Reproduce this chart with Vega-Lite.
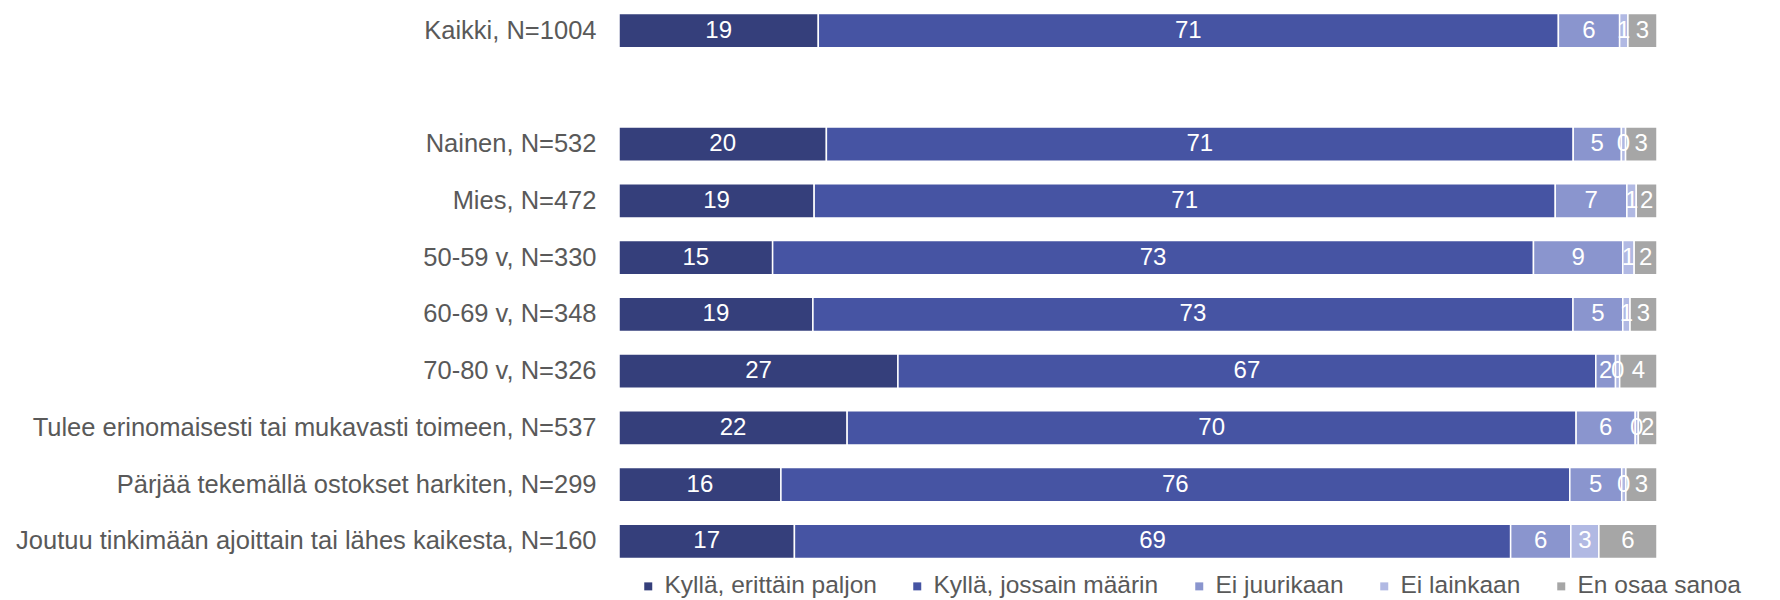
{
  "$schema": "https://vega.github.io/schema/vega-lite/v6.json",
  "width": 1038,
  "height": 572,
  "autosize": {"type": "none"},
  "padding": {"left": 619, "top": 0, "right": 123, "bottom": 28},
  "background": "white",
  "config": {"view": {"stroke": null}, "font": "Liberation Sans"},
  "data": {"values": [
    {"cat": "Kaikki, N=1004", "ans": "Kyllä, erittäin paljon", "o": 1, "v": 19.2},
    {"cat": "Kaikki, N=1004", "ans": "Kyllä, jossain määrin", "o": 2, "v": 71.3},
    {"cat": "Kaikki, N=1004", "ans": "Ei juurikaan", "o": 3, "v": 5.9},
    {"cat": "Kaikki, N=1004", "ans": "Ei lainkaan", "o": 4, "v": 0.8},
    {"cat": "Kaikki, N=1004", "ans": "En osaa sanoa", "o": 5, "v": 2.8},
    {"cat": "Nainen, N=532", "ans": "Kyllä, erittäin paljon", "o": 1, "v": 19.8},
    {"cat": "Nainen, N=532", "ans": "Kyllä, jossain määrin", "o": 2, "v": 71.3},
    {"cat": "Nainen, N=532", "ans": "Ei juurikaan", "o": 3, "v": 4.6},
    {"cat": "Nainen, N=532", "ans": "Ei lainkaan", "o": 4, "v": 0.4},
    {"cat": "Nainen, N=532", "ans": "En osaa sanoa", "o": 5, "v": 3.0},
    {"cat": "Mies, N=472", "ans": "Kyllä, erittäin paljon", "o": 1, "v": 18.8},
    {"cat": "Mies, N=472", "ans": "Kyllä, jossain määrin", "o": 2, "v": 71.4},
    {"cat": "Mies, N=472", "ans": "Ei juurikaan", "o": 3, "v": 6.9},
    {"cat": "Mies, N=472", "ans": "Ei lainkaan", "o": 4, "v": 0.9},
    {"cat": "Mies, N=472", "ans": "En osaa sanoa", "o": 5, "v": 2.0},
    {"cat": "50-59 v, N=330", "ans": "Kyllä, erittäin paljon", "o": 1, "v": 14.8},
    {"cat": "50-59 v, N=330", "ans": "Kyllä, jossain määrin", "o": 2, "v": 73.3},
    {"cat": "50-59 v, N=330", "ans": "Ei juurikaan", "o": 3, "v": 8.6},
    {"cat": "50-59 v, N=330", "ans": "Ei lainkaan", "o": 4, "v": 1.1},
    {"cat": "50-59 v, N=330", "ans": "En osaa sanoa", "o": 5, "v": 2.2},
    {"cat": "60-69 v, N=348", "ans": "Kyllä, erittäin paljon", "o": 1, "v": 18.7},
    {"cat": "60-69 v, N=348", "ans": "Kyllä, jossain määrin", "o": 2, "v": 73.3},
    {"cat": "60-69 v, N=348", "ans": "Ei juurikaan", "o": 3, "v": 4.8},
    {"cat": "60-69 v, N=348", "ans": "Ei lainkaan", "o": 4, "v": 0.7},
    {"cat": "60-69 v, N=348", "ans": "En osaa sanoa", "o": 5, "v": 2.6},
    {"cat": "70-80 v, N=326", "ans": "Kyllä, erittäin paljon", "o": 1, "v": 26.9},
    {"cat": "70-80 v, N=326", "ans": "Kyllä, jossain määrin", "o": 2, "v": 67.3},
    {"cat": "70-80 v, N=326", "ans": "Ei juurikaan", "o": 3, "v": 1.9},
    {"cat": "70-80 v, N=326", "ans": "Ei lainkaan", "o": 4, "v": 0.4},
    {"cat": "70-80 v, N=326", "ans": "En osaa sanoa", "o": 5, "v": 3.6},
    {"cat": "Tulee erinomaisesti tai mukavasti toimeen, N=537", "ans": "Kyllä, erittäin paljon", "o": 1, "v": 22.0},
    {"cat": "Tulee erinomaisesti tai mukavasti toimeen, N=537", "ans": "Kyllä, jossain määrin", "o": 2, "v": 70.3},
    {"cat": "Tulee erinomaisesti tai mukavasti toimeen, N=537", "ans": "Ei juurikaan", "o": 3, "v": 5.7},
    {"cat": "Tulee erinomaisesti tai mukavasti toimeen, N=537", "ans": "Ei lainkaan", "o": 4, "v": 0.3},
    {"cat": "Tulee erinomaisesti tai mukavasti toimeen, N=537", "ans": "En osaa sanoa", "o": 5, "v": 1.8},
    {"cat": "Pärjää tekemällä ostokset harkiten, N=299", "ans": "Kyllä, erittäin paljon", "o": 1, "v": 15.6},
    {"cat": "Pärjää tekemällä ostokset harkiten, N=299", "ans": "Kyllä, jossain määrin", "o": 2, "v": 76.0},
    {"cat": "Pärjää tekemällä ostokset harkiten, N=299", "ans": "Ei juurikaan", "o": 3, "v": 5.0},
    {"cat": "Pärjää tekemällä ostokset harkiten, N=299", "ans": "Ei lainkaan", "o": 4, "v": 0.4},
    {"cat": "Pärjää tekemällä ostokset harkiten, N=299", "ans": "En osaa sanoa", "o": 5, "v": 3.0},
    {"cat": "Joutuu tinkimään ajoittain tai lähes kaikesta, N=160", "ans": "Kyllä, erittäin paljon", "o": 1, "v": 16.9},
    {"cat": "Joutuu tinkimään ajoittain tai lähes kaikesta, N=160", "ans": "Kyllä, jossain määrin", "o": 2, "v": 69.0},
    {"cat": "Joutuu tinkimään ajoittain tai lähes kaikesta, N=160", "ans": "Ei juurikaan", "o": 3, "v": 5.8},
    {"cat": "Joutuu tinkimään ajoittain tai lähes kaikesta, N=160", "ans": "Ei lainkaan", "o": 4, "v": 2.7},
    {"cat": "Joutuu tinkimään ajoittain tai lähes kaikesta, N=160", "ans": "En osaa sanoa", "o": 5, "v": 5.6}
  ]},
  "encoding": {
    "y": {
      "field": "cat", "type": "nominal", "title": null,
      "scale": {
        "domain": ["Kaikki, N=1004", " ", "Nainen, N=532", "Mies, N=472", "50-59 v, N=330", "60-69 v, N=348", "70-80 v, N=326", "Tulee erinomaisesti tai mukavasti toimeen, N=537", "Pärjää tekemällä ostokset harkiten, N=299", "Joutuu tinkimään ajoittain tai lähes kaikesta, N=160"],
        "paddingInner": 0.4, "paddingOuter": 0.24
      },
      "axis": {"domain": false, "ticks": false, "labelFontSize": 25.5, "labelColor": "#595959", "labelPadding": 23, "labelLimit": 700, "labelFont": "Liberation Sans"}
    },
    "x": {"field": "v", "type": "quantitative", "stack": "normalize", "axis": null, "scale": {"domain": [0, 1]}},
    "order": {"field": "o", "type": "quantitative"}
  },
  "layer": [
    {
      "mark": {"type": "bar", "stroke": "white", "strokeWidth": 1.5},
      "encoding": {
        "color": {
          "field": "ans", "type": "nominal", "title": null,
          "scale": {
            "domain": ["Kyllä, erittäin paljon", "Kyllä, jossain määrin", "Ei juurikaan", "Ei lainkaan", "En osaa sanoa"],
            "range": ["#353F7B", "#4654A3", "#8A95CE", "#B1B9E3", "#A6A6A6"]
          },
          "legend": {
            "orient": "none", "direction": "horizontal", "legendX": 17, "legendY": 574,
            "symbolType": "square", "symbolSize": 64, "symbolStrokeWidth": 0,
            "labelFontSize": 24.5, "labelColor": "#595959", "labelFont": "Liberation Sans",
            "labelLimit": 500, "columnPadding": 28, "labelOffset": 4
          }
        }
      }
    },
    {
      "mark": {"type": "text", "color": "white", "fontSize": 24, "font": "Liberation Sans"},
      "encoding": {
        "x": {"field": "v", "type": "quantitative", "stack": "normalize", "bandPosition": 0.5},
        "text": {"field": "v", "type": "quantitative", "format": ".0f"}
      }
    }
  ]
}
